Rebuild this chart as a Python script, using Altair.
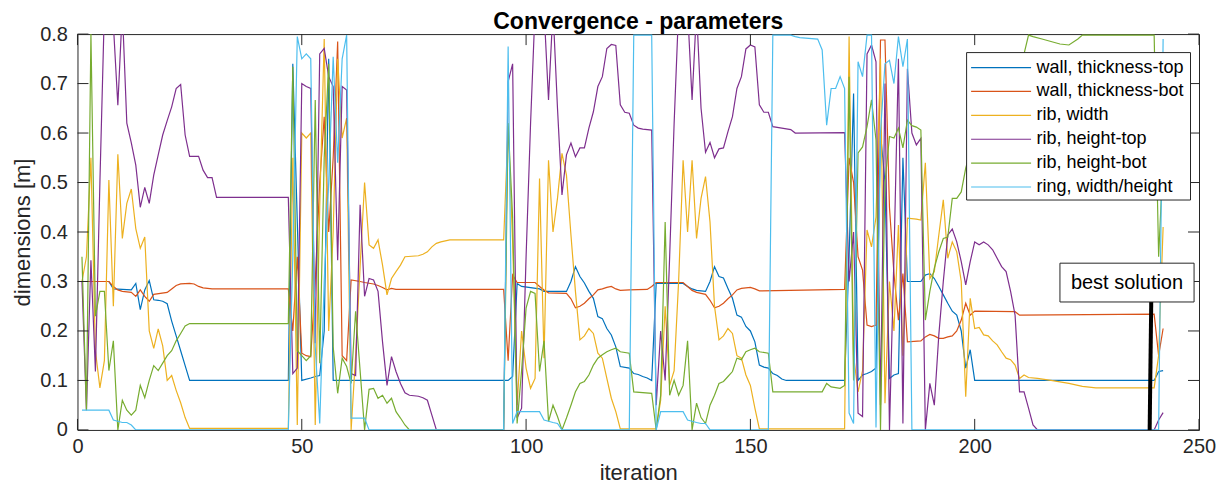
import altair as alt
import pandas as pd

# ---------------- data (iteration, value) ----------------
wall_top = [(1,0.30),(7,0.30),(8,0.285),(12,0.283),(13,0.296),(14,0.243),(15,0.283),(16,0.302),(17,0.263),(18,0.262),(19,0.26),(20,0.255),(21,0.22),(22,0.19),(23,0.16),(24,0.13),(25,0.10),(47,0.10),(48,0.74),(49,0.42),(50,0.10),(52,0.105),(53,0.108),(54,0.11),(55,0.2),(56,0.75),(57,0.10),(96,0.10),(97,0.108),(98,0.296),(99,0.29),(103,0.285),(104,0.28),(109,0.28),(110,0.30),(111,0.33),(112,0.31),(113,0.297),(114,0.28),(115,0.266),(116,0.229),(117,0.225),(118,0.205),(119,0.192),(120,0.168),(121,0.128),(123,0.125),(124,0.114),(125,0.112),(126,0.108),(127,0.105),(128,0.10),(129,0.296),(135,0.296),(136,0.29),(137,0.285),(138,0.282),(140,0.28),(141,0.30),(142,0.33),(143,0.31),(144,0.307),(145,0.286),(146,0.266),(147,0.232),(148,0.228),(149,0.209),(150,0.20),(151,0.178),(152,0.131),(153,0.127),(154,0.125),(155,0.114),(156,0.11),(157,0.103),(158,0.10),(171,0.10),(172,0.35),(173,0.68),(174,0.10),(175,0.111),(176,0.114),(177,0.118),(178,0.125),(179,0.6),(180,0.5),(181,0.104),(182,0.111),(183,0.114),(184,0.55),(185,0.30),(188,0.30),(189,0.313),(190,0.316),(191,0.306),(192,0.29),(193,0.273),(194,0.256),(195,0.24),(196,0.232),(197,0.20),(198,0.125),(199,0.162),(200,0.10),(240,0.10),(241,0.118),(242,0.12)]

wall_bot = [(1,0.30),(7,0.30),(8,0.29),(9,0.283),(10,0.28),(12,0.278),(13,0.27),(14,0.283),(15,0.27),(16,0.26),(17,0.274),(20,0.278),(21,0.285),(22,0.292),(23,0.295),(25,0.296),(26,0.295),(27,0.29),(28,0.287),(30,0.285),(47,0.285),(48,0.2),(49,0.35),(50,0.155),(51,0.15),(52,0.148),(53,0.3),(54,0.5),(55,0.633),(56,0.4),(57,0.55),(58,0.785),(59,0.15),(60,0.14),(61,0.303),(63,0.30),(64,0.298),(66,0.295),(67,0.292),(68,0.288),(69,0.283),(70,0.286),(71,0.284),(95,0.284),(96,0.14),(97,0.313),(98,0.298),(102,0.298),(103,0.29),(104,0.283),(105,0.277),(109,0.276),(110,0.265),(111,0.247),(112,0.25),(113,0.256),(114,0.265),(115,0.273),(116,0.283),(117,0.285),(118,0.288),(119,0.29),(120,0.285),(121,0.282),(123,0.283),(127,0.284),(128,0.29),(129,0.298),(135,0.298),(136,0.29),(137,0.282),(138,0.278),(139,0.276),(140,0.274),(141,0.262),(142,0.247),(143,0.25),(144,0.256),(145,0.265),(146,0.273),(147,0.283),(148,0.286),(150,0.288),(151,0.285),(152,0.281),(171,0.284),(172,0.55),(173,0.5),(174,0.35),(175,0.323),(176,0.212),(177,0.209),(178,0.212),(179,0.788),(180,0.788),(181,0.45),(182,0.316),(183,0.222),(184,0.316),(185,0.178),(188,0.18),(189,0.188),(190,0.193),(191,0.19),(192,0.185),(193,0.185),(194,0.188),(195,0.19),(196,0.20),(197,0.222),(198,0.256),(199,0.232),(200,0.24),(209,0.239),(210,0.232),(240,0.234),(241,0.15),(242,0.205)]

rib_width = [(1,0.30),(2,0.35),(3,0.55),(4,0.16),(5,0.085),(6,0.14),(7,0.505),(8,0.25),(9,0.557),(10,0.387),(11,0.458),(12,0.487),(13,0.407),(14,0.367),(15,0.39),(16,0.20),(17,0.165),(18,0.204),(19,0.17),(20,0.10),(21,0.11),(22,0.08),(23,0.055),(24,0.025),(25,0.003),(47,0.003),(48,0.55),(49,0.01),(50,0.60),(51,0.59),(52,0.60),(53,0.01),(54,0.45),(55,0.79),(56,0.2),(57,0.4),(58,0.75),(59,0.59),(60,0.63),(61,0.0),(62,0.15),(63,0.33),(64,0.50),(65,0.374),(66,0.367),(67,0.384),(68,0.333),(69,0.273),(70,0.306),(71,0.32),(72,0.333),(73,0.35),(76,0.352),(77,0.355),(78,0.36),(79,0.37),(80,0.377),(81,0.38),(83,0.384),(95,0.384),(96,0.613),(97,0.38),(98,0.05),(99,0.2),(100,0.125),(101,0.084),(102,0.104),(103,0.508),(104,0.145),(105,0.545),(106,0.40),(107,0.468),(108,0.559),(109,0.515),(110,0.394),(111,0.28),(112,0.182),(113,0.19),(114,0.205),(115,0.195),(116,0.155),(117,0.145),(118,0.104),(119,0.064),(120,0.037),(121,0.002),(129,0.002),(130,0.06),(131,0.25),(132,0.09),(133,0.12),(134,0.30),(135,0.545),(136,0.40),(137,0.545),(138,0.387),(139,0.468),(140,0.512),(141,0.42),(142,0.25),(143,0.182),(144,0.19),(145,0.205),(146,0.195),(147,0.15),(148,0.145),(149,0.111),(150,0.09),(151,0.044),(152,0.002),(171,0.002),(172,0.795),(173,0.15),(174,0.077),(175,0.12),(176,0.404),(177,0.37),(178,0.43),(179,0.75),(180,0.054),(181,0.30),(182,0.20),(183,0.414),(184,0.15),(185,0.428),(187,0.426),(188,0.424),(189,0.54),(190,0.306),(191,0.32),(192,0.394),(193,0.465),(194,0.347),(195,0.38),(196,0.36),(197,0.30),(198,0.067),(199,0.266),(200,0.205),(201,0.207),(202,0.192),(203,0.19),(204,0.18),(205,0.172),(206,0.158),(207,0.145),(208,0.142),(209,0.131),(210,0.104),(211,0.111),(212,0.106),(214,0.104),(217,0.10),(221,0.094),(224,0.088),(227,0.085),(240,0.085),(241,0.15),(242,0.41)]

rib_height_top = [(1,0.30),(2,0.04),(3,0.343),(4,0.118),(5,0.50),(6,0.85),(8,0.82),(9,0.656),(10,0.85),(11,0.62),(12,0.58),(13,0.535),(14,0.45),(15,0.49),(16,0.458),(17,0.515),(18,0.556),(19,0.596),(20,0.625),(21,0.653),(22,0.69),(23,0.698),(24,0.596),(25,0.553),(27,0.553),(28,0.525),(29,0.51),(30,0.51),(31,0.47),(47,0.47),(48,0.114),(49,0.125),(50,0.70),(51,0.694),(52,0.69),(53,0.175),(54,0.76),(55,0.771),(56,0.714),(57,0.694),(58,0.343),(59,0.694),(60,0.687),(61,0.114),(62,0.11),(63,0.455),(64,0.27),(65,0.306),(66,0.303),(67,0.28),(68,0.178),(69,0.09),(70,0.148),(71,0.118),(72,0.094),(73,0.075),(74,0.07),(76,0.068),(77,0.065),(78,0.06),(79,0.03),(80,0.0),(95,0.0),(96,0.704),(97,0.74),(98,0.024),(99,0.044),(100,0.35),(101,0.62),(102,0.85),(104,0.85),(105,0.667),(106,0.85),(107,0.65),(108,0.475),(109,0.556),(110,0.58),(111,0.552),(112,0.57),(113,0.57),(114,0.61),(115,0.643),(116,0.694),(117,0.714),(118,0.771),(119,0.779),(120,0.777),(121,0.657),(122,0.642),(123,0.64),(124,0.616),(125,0.61),(126,0.608),(128,0.606),(129,0.05),(130,0.2),(131,0.1),(132,0.35),(133,0.62),(134,0.85),(136,0.85),(137,0.667),(138,0.85),(139,0.65),(140,0.561),(141,0.581),(142,0.55),(143,0.568),(144,0.57),(145,0.603),(146,0.633),(147,0.69),(148,0.714),(149,0.77),(150,0.778),(151,0.774),(152,0.657),(153,0.642),(154,0.642),(155,0.613),(157,0.61),(159,0.607),(160,0.60),(171,0.601),(172,0.3),(173,0.4),(174,0.034),(175,0.027),(176,0.76),(177,0.778),(178,0.744),(179,0.05),(180,0.7),(181,0.0),(182,0.35),(183,0.75),(184,0.013),(185,0.73),(186,0.60),(187,0.576),(188,0.589),(189,0.0),(190,0.094),(191,0.05),(192,0.192),(193,0.30),(194,0.394),(195,0.406),(196,0.38),(197,0.34),(198,0.293),(199,0.34),(200,0.38),(201,0.374),(202,0.38),(203,0.374),(204,0.364),(205,0.347),(206,0.33),(207,0.32),(208,0.28),(209,0.232),(210,0.077),(211,0.077),(212,0.044),(213,0.01),(214,0.0),(240,0.0),(241,0.02),(242,0.035)]

rib_height_bot = [(1,0.35),(2,0.04),(3,0.80),(4,0.23),(5,0.28),(6,0.28),(7,0.12),(8,0.18),(9,0.0),(10,0.06),(11,0.04),(12,0.03),(13,0.04),(14,0.09),(15,0.065),(16,0.10),(17,0.13),(18,0.12),(19,0.135),(20,0.15),(21,0.16),(22,0.18),(23,0.195),(24,0.21),(25,0.215),(47,0.215),(48,0.734),(49,0.16),(50,0.15),(51,0.14),(52,0.15),(53,0.667),(54,0.135),(55,0.55),(56,0.74),(57,0.168),(58,0.074),(59,0.145),(60,0.128),(61,0.094),(62,0.24),(63,0.12),(64,0.0),(65,0.082),(66,0.084),(67,0.064),(68,0.07),(69,0.054),(70,0.064),(71,0.037),(72,0.024),(73,0.01),(74,0.0),(95,0.0),(96,0.62),(97,0.43),(98,0.013),(99,0.12),(100,0.246),(101,0.28),(102,0.276),(103,0.118),(104,0.18),(105,0.017),(106,0.05),(107,0.027),(108,0.0),(109,0.024),(110,0.05),(111,0.077),(112,0.094),(113,0.098),(114,0.111),(115,0.131),(116,0.145),(117,0.152),(118,0.158),(119,0.162),(120,0.165),(121,0.158),(123,0.155),(124,0.077),(128,0.074),(129,0.0),(130,0.07),(131,0.42),(132,0.07),(133,0.10),(134,0.07),(135,0.09),(136,0.18),(137,0.0),(138,0.054),(139,0.025),(140,0.013),(141,0.05),(142,0.07),(143,0.094),(144,0.098),(145,0.108),(146,0.118),(147,0.145),(148,0.142),(149,0.158),(150,0.162),(151,0.165),(152,0.158),(154,0.155),(155,0.077),(166,0.077),(167,0.094),(168,0.087),(170,0.084),(171,0.09),(172,0.714),(173,0.1),(174,0.56),(175,0.572),(176,0.613),(177,0.667),(178,0.586),(179,0.0),(180,0.5),(181,0.593),(182,0.59),(183,0.61),(184,0.57),(185,0.626),(186,0.615),(187,0.612),(188,0.606),(189,0.222),(190,0.28),(191,0.327),(192,0.36),(193,0.387),(194,0.39),(195,0.468),(196,0.468),(197,0.481),(198,0.529),(199,0.562),(200,0.596),(202,0.62),(204,0.65),(206,0.67),(208,0.70),(210,0.73),(211,0.76),(212,0.798),(213,0.795),(215,0.79),(217,0.785),(219,0.78),(221,0.778),(223,0.79),(224,0.798),(240,0.798),(241,0.35),(242,0.55)]

ring = [(1,0.04),(7,0.04),(8,0.02),(10,0.015),(11,0.015),(12,0.01),(13,0.0),(47,0.0),(48,0.35),(49,0.795),(50,0.75),(51,0.76),(52,0.75),(53,0.168),(54,0.013),(55,0.3),(56,0.5),(57,0.754),(58,0.54),(59,0.75),(60,0.798),(61,0.024),(64,0.024),(65,0.0),(95,0.0),(96,0.775),(97,0.013),(98,0.037),(103,0.037),(104,0.02),(106,0.015),(107,0.013),(108,0.0),(123,0.0),(124,0.798),(128,0.798),(129,0.0),(130,0.037),(135,0.037),(136,0.02),(138,0.015),(139,0.013),(140,0.013),(141,0.0),(154,0.0),(155,0.798),(159,0.798),(160,0.795),(161,0.793),(165,0.79),(166,0.768),(167,0.616),(168,0.69),(169,0.69),(170,0.714),(171,0.69),(172,0.034),(173,0.013),(174,0.744),(175,0.714),(176,0.798),(177,0.798),(178,0.005),(179,0.6),(180,0.74),(181,0.747),(182,0.7),(183,0.795),(184,0.734),(185,0.79),(186,0.0),(241,0.0),(242,0.79)]

NAMES = ["wall, thickness-top", "wall, thickness-bot", "rib, width",
         "rib, height-top", "rib, height-bot", "ring, width/height"]
COLORS = ["#0072BD", "#D95319", "#EDB120", "#7E2F8E", "#77AC30", "#4DBEEE"]
SERIES = [wall_top, wall_bot, rib_width, rib_height_top, rib_height_bot, ring]

X_TICKS = [0, 50, 100, 150, 200, 250]
Y_TICKS = [0, 0.1, 0.2, 0.3, 0.4, 0.5, 0.6, 0.7, 0.8]
X_DOM = [0, 250]
Y_DOM = [0, 0.8]

TITLE = "Convergence - parameters"
BEST_ITER = 239
BEST_LABEL = "best solution"
BOX = {"x": 219.0, "x2": 248.9, "y": 0.2586, "y2": 0.337}

# ---------------- build ----------------
rows = []
for name, pts in zip(NAMES, SERIES):
    for it, v in pts:
        rows.append({"series": name, "iteration": it, "value": v})
df = pd.DataFrame(rows)

W, H = 1122, 396
FONT = "Liberation Sans"
AX = "#262626"
TL = 11


def px_to_x(p):  # plot-area pixel -> iteration units (for legend layout)
    return X_DOM[0] + p / W * (X_DOM[1] - X_DOM[0])


def px_to_y(p):  # plot-area pixel from top -> value units
    return Y_DOM[1] - p / H * (Y_DOM[1] - Y_DOM[0])


xscale = alt.Scale(domain=X_DOM, nice=False, zero=False)
yscale = alt.Scale(domain=Y_DOM, nice=False)
color = alt.Color("series:N", scale=alt.Scale(domain=NAMES, range=COLORS), legend=None)

lines = alt.Chart(df).mark_line(strokeWidth=1.2, clip=True).encode(
    x=alt.X("iteration:Q", scale=xscale,
            axis=alt.Axis(values=X_TICKS, title="iteration", format="d",
                          labelFlush=False, labelPadding=7, titlePadding=6)),
    y=alt.Y("value:Q", scale=yscale,
            axis=alt.Axis(values=Y_TICKS, title="dimensions [m]",
                          labelExpr="datum.value == 0 ? '0' : format(datum.value, '.1f')",
                          labelFlush=False, labelPadding=10, titlePadding=5)),
    color=color,
)

xt = pd.DataFrame({"t": X_TICKS})
yt = pd.DataFrame({"t": Y_TICKS})
xt_bot = alt.Chart(xt).mark_rule(color=AX, strokeWidth=1).encode(
    x=alt.X("t:Q", scale=xscale), y=alt.value(H), y2=alt.value(H - TL))
xt_top = alt.Chart(xt).mark_rule(color=AX, strokeWidth=1).encode(
    x=alt.X("t:Q", scale=xscale), y=alt.value(0), y2=alt.value(TL))
yt_left = alt.Chart(yt).mark_rule(color=AX, strokeWidth=1).encode(
    y=alt.Y("t:Q", scale=yscale), x=alt.value(0), x2=alt.value(TL))
yt_right = alt.Chart(yt).mark_rule(color=AX, strokeWidth=1).encode(
    y=alt.Y("t:Q", scale=yscale), x=alt.value(W), x2=alt.value(W - TL))

best = pd.DataFrame([{"x": BEST_ITER, "y": 0.0, "x2": BEST_ITER + 0.35, "y2": BOX["y"]}])
best_line = alt.Chart(best).mark_rule(color="black", strokeWidth=4).encode(
    x=alt.X("x:Q", scale=xscale), x2="x2:Q",
    y=alt.Y("y:Q", scale=yscale), y2="y2:Q")

box_df = pd.DataFrame([dict(BOX, label=BEST_LABEL,
                            cx=(BOX["x"] + BOX["x2"]) / 2, cy=(BOX["y"] + BOX["y2"]) / 2)])
box = alt.Chart(box_df).mark_rect(fill="white", stroke=AX, strokeWidth=1).encode(
    x=alt.X("x:Q", scale=xscale), x2="x2:Q",
    y=alt.Y("y:Q", scale=yscale), y2="y2:Q")
box_text = alt.Chart(box_df).mark_text(font=FONT, fontSize=20, color="black",
                                       align="center", baseline="middle").encode(
    x=alt.X("cx:Q", scale=xscale),
    y=alt.Y("cy:Q", scale=yscale),
    text="label:N")

# legend box in the upper right (layout in plot pixels, converted to data units)
LEG_L, LEG_R, LEG_T, LEG_B = 889.5, 1113.5, 18.5, 166
ROW0, STEP = 33.5, 23.9
leg_box_df = pd.DataFrame([{"x": px_to_x(LEG_L), "x2": px_to_x(LEG_R),
                            "y": px_to_y(LEG_T), "y2": px_to_y(LEG_B)}])
leg = pd.DataFrame({
    "series": NAMES,
    "ly": [px_to_y(ROW0 + i * STEP) for i in range(len(NAMES))],
    "lx1": px_to_x(894), "lx2": px_to_x(954), "tx": px_to_x(959.5),
})
leg_box = alt.Chart(leg_box_df).mark_rect(fill="white", stroke=AX, strokeWidth=1).encode(
    x=alt.X("x:Q", scale=xscale), x2="x2:Q",
    y=alt.Y("y:Q", scale=yscale), y2="y2:Q")
leg_lines = alt.Chart(leg).mark_rule(strokeWidth=1.2).encode(
    x=alt.X("lx1:Q", scale=xscale), x2="lx2:Q",
    y=alt.Y("ly:Q", scale=yscale), color=color)
leg_text = alt.Chart(leg).mark_text(font=FONT, fontSize=18, color="black",
                                    align="left", baseline="middle").encode(
    x=alt.X("tx:Q", scale=xscale), y=alt.Y("ly:Q", scale=yscale), text="series:N")

# chart title, centred above the plot area
title_df = pd.DataFrame([{"title": TITLE}])
title = alt.Chart(title_df).mark_text(font=FONT, fontSize=23, fontWeight="bold",
                                      color="black", align="center", baseline="middle").encode(
    x=alt.value(W / 2), y=alt.value(-12), text="title:N")

chart = alt.layer(
    lines, xt_bot, xt_top, yt_left, yt_right,
    best_line, box, box_text, leg_box, leg_lines, leg_text, title
).properties(
    width=W, height=H,
    autosize=alt.AutoSizeParams(type="none"),
    padding={"left": 69.5, "top": 26, "right": 20, "bottom": 54},
    background="white",
).configure_view(
    stroke=AX, strokeWidth=1
).configure_axis(
    domain=False, ticks=False, grid=False,
    labelFont=FONT, labelFontSize=20, labelColor=AX,
    titleFont=FONT, titleFontSize=22, titleColor=AX, titleFontWeight="normal",
)

chart.save("out.html", embed_options={"renderer": "svg", "actions": False})
